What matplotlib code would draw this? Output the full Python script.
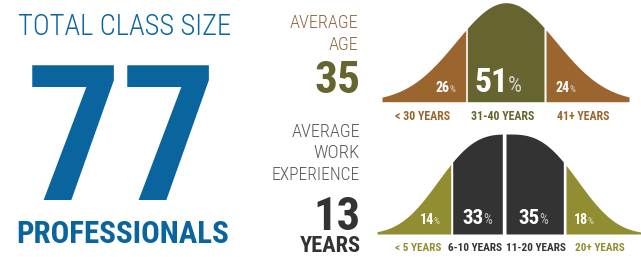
import numpy as np
import matplotlib
matplotlib.use('Agg')
import matplotlib.pyplot as plt
from matplotlib import font_manager


# ############################# DATA ################################

class_size = 77
avg_age = 35
avg_experience = 13

age_groups = ['< 30 YEARS', '31-40 YEARS', '41+ YEARS']
age_share = [26, 51, 24]

exp_groups = ['< 5 YEARS', '6-10 YEARS', '11-20 YEARS', '20+ YEARS']
exp_share = [14, 33, 35, 18]

# ########################### STYLE ##############################

blue = '#0a659e'
brown = '#9b6530'
olive = '#66652f'
mustard = '#918e31'
dark = '#333333'

avail = {f.name for f in font_manager.fontManager.ttflist}


def pick(*names):
    return next((n for n in names if n in avail), 'DejaVu Sans')


narrow = pick('Roboto Condensed', 'Liberation Sans Narrow', 'Open Sans Condensed', 'Roboto')
light = pick('Roboto Condensed', 'Roboto', 'Open Sans')

# segment edges of each bell (pixel space) and label anchors
age_edges = [(382, 465.7), (467.3, 544), (546, 629)]
age_colors = [brown, olive, brown]
age_label_x = [423, 503, 583]
age_pct_x = [450, 508, 570]
age_pct_cap = [10, 24, 10]

exp_edges = [(377, 450.7), (452.7, 502.3), (506, 563.3), (566, 641)]
exp_colors = [mustard, dark, dark, mustard]
exp_label_x = [418, 475, 536, 600]
exp_pct_x = [434, 484, 540, 588]
exp_pct_cap = [10, 15, 15, 10]

# ############################## PLOT ####################################

fig = plt.figure(figsize=(6.41, 2.57), dpi=100)
ax = fig.add_axes([0, 0, 1, 1])
ax.set_xlim(0, 641)
ax.set_ylim(257, 0)
ax.axis('off')
renderer = fig.canvas.get_renderer()


def put(x, y, s, cap, width=None, ha='left', **kw):
    """place text by baseline, sized by cap height, shrunk to fit width"""
    fs = cap / 0.99
    t = ax.text(x, y, s, ha=ha, va='baseline', fontsize=fs, **kw)
    if width:
        w = t.get_window_extent(renderer).width
        if w > width:
            t.set_fontsize(fs * width / w)
    return t


def bell(x, c, s, p, base, height):
    return base - height * np.exp(-(np.abs(x - c) / s) ** p)


def draw_bell(edges, colors, c, s, p, base, height):
    for (x0, x1), col in zip(edges, colors):
        xs = np.linspace(x0, x1, 200)
        ax.fill_between(xs, base, bell(xs, c, s, p, base, height),
                        color=col, lw=0)


def pct(x, y, v, cap):
    put(x, y, str(v), cap, ha='right', color='white',
        family=narrow, fontweight='bold')
    put(x - 0.5, y, '%', cap * 0.66, ha='left', color='white', alpha=0.7,
        family=narrow)


# --- left block ---
put(18, 35, 'TOTAL CLASS SIZE', 23, width=214, color=blue,
    family=light, fontweight='light')
put(26, 200, str(class_size), 145, width=192, color=blue,
    family=narrow, fontweight='bold')
put(16, 243, 'PROFESSIONALS', 30, width=213, color=blue,
    family=narrow, fontweight='bold')

# --- age block ---
age_txt = '#8d6a3f'
put(358, 28, 'AVERAGE', 13, width=71, ha='right', color=age_txt,
    family=light, fontweight='light')
put(358, 50, 'AGE', 13, ha='right', color=age_txt,
    family=light, fontweight='light')
put(360, 93, str(avg_age), 33, width=46, ha='right', color=olive,
    family=narrow, fontweight='bold')

draw_bell(age_edges, age_colors, 506, 70.7, 2.0, 101.7, 99)

for lab, v, x, cap, lx, col in zip(age_groups, age_share, age_pct_x,
                                   age_pct_cap, age_label_x, age_colors):
    pct(x, 92, v, cap)
    put(lx, 120, lab, 8.5, width=70, ha='center', color=col,
        family=narrow, fontweight='bold')

# --- work experience block ---
exp_txt = '#595959'
put(360, 137, 'AVERAGE', 14, width=69, ha='right', color=exp_txt,
    family=light, fontweight='light')
put(360, 158, 'WORK', 14, width=46, ha='right', color=exp_txt,
    family=light, fontweight='light')
put(360, 180, 'EXPERIENCE', 14, width=88, ha='right', color=exp_txt,
    family=light, fontweight='light')
put(361, 230, str(avg_experience), 38, width=47, ha='right', color=dark,
    family=narrow, fontweight='bold')
put(361, 252, 'YEARS', 17, width=61, ha='right', color=dark,
    family=narrow, fontweight='bold')

draw_bell(exp_edges, exp_colors, 508, 82, 2.83, 234, 100)

for lab, v, x, cap, lx, col in zip(exp_groups, exp_share, exp_pct_x,
                                   exp_pct_cap, exp_label_x, exp_colors):
    pct(x, 224, v, cap)
    put(lx, 251, lab, 8, width=62, ha='center', color=col,
        family=narrow, fontweight='bold')

fig.savefig('out.png', dpi=100, facecolor='white')
